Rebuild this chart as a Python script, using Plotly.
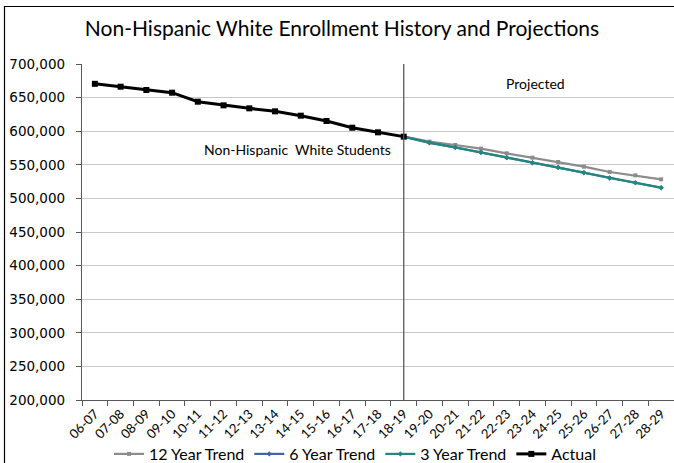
import plotly.graph_objects as go

# School years on the category axis
years = ["06-07", "07-08", "08-09", "09-10", "10-11", "11-12", "12-13", "13-14",
         "14-15", "15-16", "16-17", "17-18", "18-19", "19-20", "20-21", "21-22",
         "22-23", "23-24", "24-25", "25-26", "26-27", "27-28", "28-29"]

# Enrollment history (actual counts)
actual = [670500, 666200, 661300, 657300, 643900, 638500, 634000, 629600,
          623100, 615200, 605200, 598300, 591900] + [None] * 10

# Projections, each starting from the last actual year
trend_12 = [None] * 12 + [591900, 584400, 579500, 574000, 567100, 560600,
                          554200, 547200, 539300, 534300, 528400]
trend_6 = [None] * 12 + [591900, 582700, 575800, 568400, 560500, 553000,
                         546100, 538200, 530300, 523300, 515800]
trend_3 = [None] * 12 + [591900, 582900, 576000, 568600, 560600, 553100,
                         546300, 538300, 530400, 523400, 516000]

y_ticks = [200000, 250000, 300000, 350000, 400000, 450000,
           500000, 550000, 600000, 650000, 700000]

title_text = "Non-Hispanic White Enrollment History and Projections"
series_note = "Non-Hispanic  White Students"
proj_note = "Projected"
split_year = "18-19"

W, H = 674, 463
L, R, T, B = 82, 0, 64, 63
pw, ph = W - L - R, H - T - B


def px_x(p):
    return (p - L) / pw


def px_y(p):
    return (H - B - p) / ph


fig = go.Figure()

fig.add_trace(go.Scatter(
    x=years, y=trend_12, name="12 Year Trend", mode="lines+markers",
    line=dict(color="#8c8c8c", width=2.2),
    marker=dict(symbol="square", size=4, color="#8c8c8c"),
))
fig.add_trace(go.Scatter(
    x=years, y=trend_6, name="6 Year Trend", mode="lines+markers",
    line=dict(color="#3f64a8", width=2.2),
    marker=dict(symbol="diamond", size=4, color="#3f64a8"),
))
fig.add_trace(go.Scatter(
    x=years, y=trend_3, name="3 Year Trend", mode="lines+markers",
    line=dict(color="#22887e", width=2.2),
    marker=dict(symbol="diamond", size=4, color="#22887e"),
))
fig.add_trace(go.Scatter(
    x=years, y=actual, name="Actual", mode="lines+markers",
    line=dict(color="#000000", width=3),
    marker=dict(symbol="square", size=6, color="#000000"),
))

# Divider between history and projections
split_idx = years.index(split_year)
fig.add_shape(type="line", xref="x", yref="paper",
              x0=split_idx, x1=split_idx, y0=0, y1=1,
              line=dict(color="#595959", width=1.3), layer="above")

# Outer chart border
fig.add_shape(type="rect", xref="paper", yref="paper",
              x0=px_x(4.5), x1=px_x(W + 20), y0=px_y(H + 20), y1=px_y(6.5),
              line=dict(color="#000000", width=1.2), fillcolor="rgba(0,0,0,0)")

fig.add_annotation(text=series_note, xref="paper", yref="paper",
                   x=px_x(297), y=px_y(149), xanchor="center", yanchor="middle",
                   showarrow=False,
                   font=dict(family="Lato", size=14, color="#000000"))
fig.add_annotation(text=proj_note, xref="paper", yref="paper",
                   x=px_x(535), y=px_y(83), xanchor="center", yanchor="middle",
                   showarrow=False,
                   font=dict(family="Lato", size=14, color="#000000"))

fig.update_layout(
    width=W, height=H,
    margin=dict(l=L, r=R, t=T, b=B, pad=0, autoexpand=False),
    paper_bgcolor="#ffffff", plot_bgcolor="#ffffff",
    title=dict(text=title_text, xref="container", x=342 / W, xanchor="center",
               yref="container", y=1 - 29 / H, yanchor="middle",
               font=dict(family="Lato", size=21, color="#000000")),
    showlegend=True,
    legend=dict(orientation="h", x=px_x(355), xanchor="center",
                y=px_y(454), yanchor="middle",
                font=dict(family="Lato", size=16, color="#000000"),
                itemwidth=30, bgcolor="rgba(0,0,0,0)", traceorder="normal"),
    xaxis=dict(type="category", categoryorder="array", categoryarray=years,
               range=[-0.5, len(years) - 0.5],
               tickson="boundaries", ticks="outside", ticklen=5,
               tickcolor="#595959", tickangle=-45, automargin=False,
               showline=True, linecolor="#595959", linewidth=1.3,
               showgrid=False, zeroline=False,
               tickfont=dict(family="Lato", size=13, color="#000000")),
    yaxis=dict(range=[200000, 700000], tickvals=y_ticks, tickformat=",",
               ticks="outside", ticklen=5, tickcolor="#595959",
               showline=True, linecolor="#595959", linewidth=1.3,
               showgrid=True, gridcolor="#c8c8c8", gridwidth=1,
               zeroline=False, ticklabelstandoff=8, automargin=False,
               tickfont=dict(family="DejaVu Sans", size=13.5, color="#000000")),
)

fig.write_html("out.html")
